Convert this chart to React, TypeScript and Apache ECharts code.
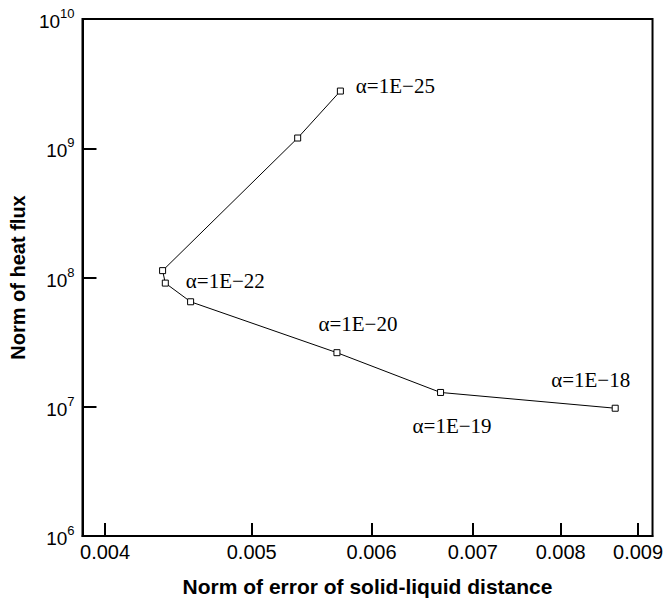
import React, { useEffect, useRef } from "react";
import * as echarts from "echarts";

// Data (x: norm of error, y: norm of heat flux)
const xErr = [0.005722, 0.005362, 0.004366, 0.004384, 0.004556, 0.005692, 0.006664, 0.008692];
const yFlux = [2.77e9, 1.2e9, 1.13e8, 9.05e7, 6.49e7, 2.62e7, 1.29e7, 9.74e6];
const pointLabels = ["α=1E−25", "", "", "α=1E−22", "", "α=1E−20", "α=1E−19", "α=1E−18"];

const xTicks = [0.004, 0.005, 0.006, 0.007, 0.008, 0.009];
const xRange = [0.003865, 0.0092];
const yRange = [1e6, 1e10];

// label placement (center offset from point, px)
const labelOffsets: Record<number, [number, number]> = {
  0: [55, -5],
  3: [60, -2],
  5: [21, -29],
  6: [11.5, 34],
  7: [-24.5, -28.5],
};

export default function App() {
  const ref = useRef<HTMLDivElement>(null);
  useEffect(() => {
    if (!ref.current) return;
    const chart = echarts.init(ref.current, undefined, { renderer: "svg" });
    const data = xErr.map((x, i) => {
      const item: any = { value: [Math.log10(x), yFlux[i]] };
      if (pointLabels[i]) {
        item.label = {
          show: true,
          position: "inside",
          offset: labelOffsets[i] || [0, 0],
          formatter: pointLabels[i],
          fontFamily: "Liberation Serif",
          fontSize: 21,
          color: "#000",
          align: "center",
          verticalAlign: "middle",
        };
      }
      return item;
    });
    chart.setOption({
      animation: false,
      backgroundColor: "#fff",
      grid: {
        left: 78.5,
        right: 11,
        top: 19,
        bottom: 56.5,
        show: true,
        borderColor: "#000",
        borderWidth: 2,
        backgroundColor: "transparent",
      },
      xAxis: {
        type: "value",
        min: Math.log10(xRange[0]),
        max: Math.log10(xRange[1]),
        name: "Norm of error of solid-liquid distance",
        nameLocation: "middle",
        nameGap: 40,
        nameTextStyle: {
          fontFamily: "Liberation Sans",
          fontWeight: "bold",
          fontSize: 21,
          color: "#000",
        },
        axisLine: { show: true, lineStyle: { color: "#000", width: 2 } },
        axisTick: {
          show: true,
          inside: true,
          length: 13,
          lineStyle: { color: "#000", width: 2 },
          customValues: xTicks.map((t) => Math.log10(t)),
        },
        axisLabel: {
          show: true,
          margin: 6,
          fontFamily: "Liberation Sans",
          fontSize: 20,
          color: "#000",
          customValues: xTicks.map((t) => Math.log10(t)),
          formatter: (v: number) => Math.pow(10, v).toFixed(3),
        },
        splitLine: { show: false },
      },
      yAxis: {
        type: "log",
        logBase: 10,
        min: yRange[0],
        max: yRange[1],
        name: "Norm of heat flux",
        nameLocation: "middle",
        nameGap: 54,
        nameTextStyle: {
          fontFamily: "Liberation Sans",
          fontWeight: "bold",
          fontSize: 20,
          color: "#000",
        },
        axisLine: { show: true, lineStyle: { color: "#000", width: 2 } },
        axisTick: {
          show: true,
          inside: true,
          length: 14,
          lineStyle: { color: "#000", width: 2 },
        },
        minorTick: { show: false },
        axisLabel: {
          show: true,
          margin: 8,
          color: "#000",
          fontFamily: "Liberation Sans",
          fontSize: 19,
          formatter: (v: number) => `{base|10}{sup|${Math.round(Math.log10(v))}}`,
          rich: {
            base: {
              fontFamily: "Liberation Sans",
              fontSize: 19,
              lineHeight: 24,
              verticalAlign: "bottom",
              color: "#000",
            },
            sup: {
              fontFamily: "Liberation Sans",
              fontSize: 13,
              lineHeight: 13,
              verticalAlign: "top",
              color: "#000",
            },
          },
        },
        splitLine: { show: false },
      },
      series: [
        {
          type: "line",
          data,
          symbol: "rect",
          symbolSize: 6,
          showAllSymbol: true,
          lineStyle: { color: "#000", width: 1 },
          itemStyle: { color: "#fff", borderColor: "#000", borderWidth: 1 },
          emphasis: { disabled: true },
          z: 3,
        },
      ],
    });
    return () => chart.dispose();
  }, []);
  return (
    <div
      ref={ref}
      style={{ position: "fixed", left: 0, top: 0, width: 666, height: 602 }}
    />
  );
}
